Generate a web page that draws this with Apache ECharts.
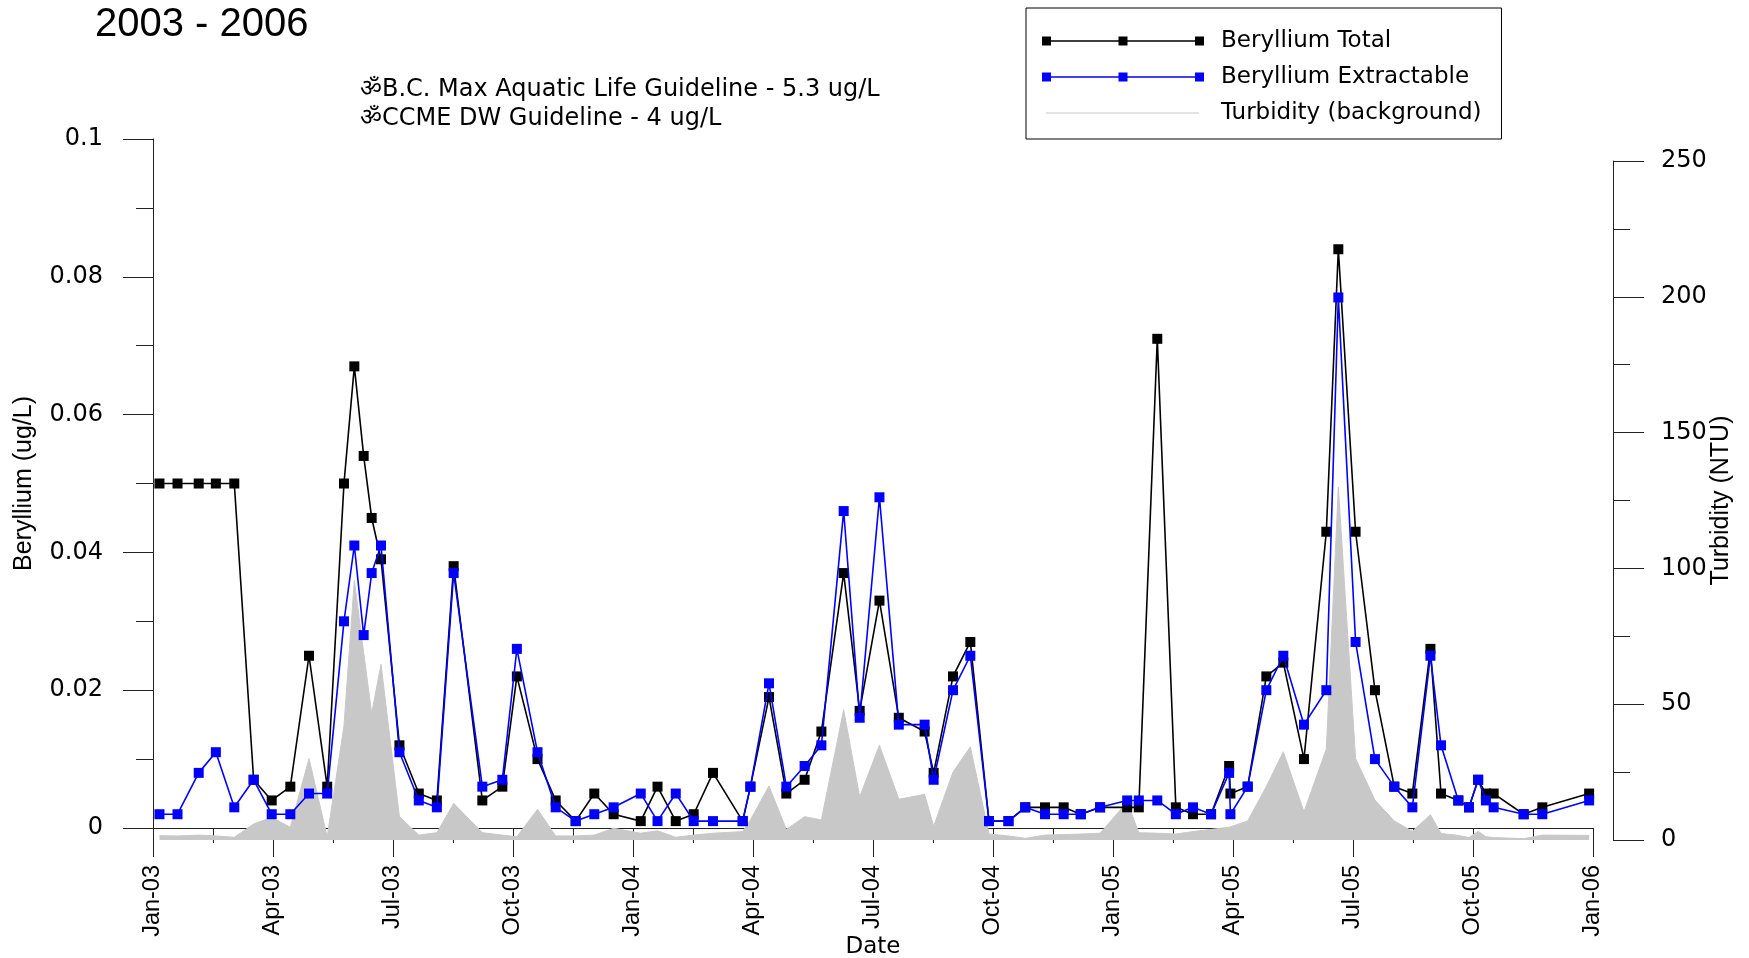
<!DOCTYPE html>
<html><head><meta charset="utf-8">
<script src="https://cdn.jsdelivr.net/npm/echarts@6/dist/echarts.min.js"></script>
<style>html,body{margin:0;padding:0;background:#fff}#chart{width:1749px;height:958px}</style>
</head><body><div id="chart"></div>
<script>
// ---- data ----
const sampleDates = [
 '2003-01-06','2003-01-20','2003-02-05','2003-02-17','2003-03-02','2003-03-17','2003-03-31','2003-04-14','2003-04-28','2003-05-12',
 '2003-05-25','2003-06-02','2003-06-09','2003-06-15','2003-06-22','2003-07-06','2003-07-21','2003-08-04','2003-08-17','2003-09-08',
 '2003-09-23','2003-10-04','2003-10-20','2003-11-03','2003-11-18','2003-12-02','2003-12-17','2004-01-07','2004-01-20','2004-02-03',
 '2004-02-16','2004-03-01','2004-03-24','2004-03-30','2004-04-13','2004-04-26','2004-05-10','2004-05-23','2004-06-09','2004-06-21',
 '2004-07-06','2004-07-21','2004-08-10','2004-08-17','2004-09-01','2004-09-14','2004-09-28','2004-10-13','2004-10-26','2004-11-10',
 '2004-11-24','2004-12-07','2004-12-22','2005-01-12','2005-01-21','2005-02-04','2005-02-17','2005-03-01','2005-03-15','2005-03-29',
 '2005-03-30','2005-04-12','2005-04-26','2005-05-09','2005-05-25','2005-06-11','2005-06-20','2005-07-03','2005-07-18','2005-08-02',
 '2005-08-16','2005-08-30','2005-09-07','2005-09-20','2005-09-28','2005-10-05','2005-10-11','2005-10-17','2005-11-09','2005-11-23',
 '2005-12-29'
];
const berylliumTotal = [
 0.05,0.05,0.05,0.05,0.05,0.007,0.004,0.006,0.025,0.006,
 0.05,0.067,0.054,0.045,0.039,0.012,0.005,0.004,0.038,0.004,
 0.006,0.022,0.010,0.004,0.001,0.005,0.002,0.001,0.006,0.001,
 0.002,0.008,0.001,0.006,0.019,0.005,0.007,0.014,0.037,0.017,
 0.033,0.016,0.014,0.008,0.022,0.027,0.001,0.001,0.003,0.003,
 0.003,0.002,0.003,0.003,0.003,0.071,0.003,0.002,0.002,0.009,
 0.005,0.006,0.022,0.024,0.010,0.043,0.084,0.043,0.020,0.006,
 0.005,0.026,0.005,0.004,0.003,0.007,0.005,0.005,0.002,0.003,
 0.005
];
const berylliumExtractable = [
 0.002,0.002,0.008,0.011,0.003,0.007,0.002,0.002,0.005,0.005,
 0.030,0.041,0.028,0.037,0.041,0.011,0.004,0.003,0.037,0.006,
 0.007,0.026,0.011,0.003,0.001,0.002,0.003,0.005,0.001,0.005,
 0.001,0.001,0.001,0.006,0.021,0.006,0.009,0.012,0.046,0.016,
 0.048,0.015,0.015,0.007,0.020,0.025,0.001,0.001,0.003,0.002,
 0.002,0.002,0.003,0.004,0.004,0.004,0.002,0.003,0.002,0.008,
 0.002,0.006,0.020,0.025,0.015,0.020,0.077,0.027,0.010,0.006,
 0.003,0.025,0.012,0.004,0.003,0.007,0.004,0.003,0.002,0.002,
 0.004
];
const turbidityNTU = [
 1.6,1.5,1.8,1.5,1.0,5.9,8.3,4.7,30,1.2,
 42,95.6,69,46.6,64.7,8.6,1.8,2.7,13.5,2.7,
 1.8,1.2,11.3,1.5,1.5,1.8,4.3,2.5,3.4,1.0,
 1.8,2.5,3.1,7.4,19.9,3.9,8.6,7.4,48,15.9,
 34.9,15,16.8,5.1,25,34.3,2.2,1.5,0.6,1.8,
 2.0,2.2,2.5,14,2.7,2.5,2.2,3.1,3.9,4.7,
 4.7,7.0,19.7,32.5,10.4,33.5,130,30,14.7,7,
 3.2,9.3,2.4,1.7,0.9,3.2,1.2,0.9,0.5,1.8,
 1.7
];
const xTickLabels = ['Jan-03','Apr-03','Jul-03','Oct-03','Jan-04','Apr-04','Jul-04','Oct-04','Jan-05','Apr-05','Jul-05','Oct-05','Jan-06'];
const seriesNames = ['Beryllium Total','Beryllium Extractable','Turbidity (background)'];
const guidelineNotes = ['ॐB.C. Max Aquatic Life Guideline - 5.3 ug/L','ॐCCME DW Guideline - 4 ug/L'];
const chartTitle = '2003 - 2006';

// months since Jan 2003 (axis unit)
function monthIndex(s){
  const p = s.split('-').map(Number);
  const dim = new Date(p[0], p[1], 0).getDate();
  return (p[0]-2003)*12 + (p[1]-1) + (p[2]-1)/dim;
}
const xs = sampleDates.map(monthIndex);
const pairs = arr => arr.map((v,i) => [xs[i], v]);

const H = 'DejaVu Sans';
const V = 'Liberation Sans';
const AX = '#222';

const iconMarkers = 'path://M0,0h9v9h-9z M76.5,0h9v9h-9z M153,0h9v9h-9z M0,3.8h162v1.4h-162z';
const iconLine = 'path://M4,3.9h153v1.2h-153z M0,0h0.01v0.01h-0.01z M161.99,8.99h0.01v0.01h-0.01z';

const chart = echarts.init(document.getElementById('chart'), null, {renderer:'canvas'});
chart.setOption({
  animation:false,
  backgroundColor:'#fff',
  title:{text:chartTitle, left:95, top:5, padding:0,
    textStyle:{fontFamily:V, fontSize:40, fontWeight:'normal', color:'#000'}},
  legend:{
    orient:'vertical', left:1026, top:8, padding:[19,20,12,16], itemGap:8,
    itemWidth:162, itemHeight:9, selectedMode:false,
    borderColor:'#000', borderWidth:1, backgroundColor:'#fff',
    itemStyle:{borderWidth:0},
    textStyle:{fontFamily:H, fontSize:23, color:'#000', lineHeight:28, padding:[0,0,0,12]},
    data:[
      {name:seriesNames[0], icon:iconMarkers},
      {name:seriesNames[1], icon:iconMarkers},
      {name:seriesNames[2], icon:iconLine}
    ]
  },
  graphic:[
    {type:'text', x:360, y:89.5, style:{text:guidelineNotes[0], font:'24px "DejaVu Sans"', fill:'#000', verticalAlign:'middle'}},
    {type:'text', x:360, y:118.5, style:{text:guidelineNotes[1], font:'24px "DejaVu Sans"', fill:'#000', verticalAlign:'middle'}}
  ],
  grid:[
    {left:153, right:156, top:139, bottom:130, containLabel:false, outerBoundsMode:'none'},
    {left:153, right:156, top:161, bottom:118, containLabel:false, outerBoundsMode:'none'}
  ],
  xAxis:[
    {type:'value', gridIndex:0, min:0, max:36, interval:3,
      name:'Date', nameLocation:'middle', nameGap:108, nameMoveOverlap:false,
      nameTextStyle:{fontFamily:H, fontSize:23, color:'#000'},
      axisLine:{show:true, onZero:false, lineStyle:{color:AX, width:1}},
      axisTick:{show:true, length:29, lineStyle:{color:AX, width:1}},
      minorTick:{show:true, splitNumber:2, length:15, lineStyle:{color:AX, width:1}},
      splitLine:{show:false}, minorSplitLine:{show:false},
      axisLabel:{rotate:90, margin:37, fontFamily:V, fontSize:23.5, color:'#000',
        showMinLabel:true, showMaxLabel:true,
        formatter: v => xTickLabels[Math.round(v/3)] || ''}},
    {type:'value', gridIndex:1, min:0, max:36, show:false}
  ],
  yAxis:[
    {type:'value', gridIndex:0, position:'left', min:0, max:0.1, interval:0.02,
      name:'Beryllium (ug/L)', nameLocation:'middle', nameGap:116, nameRotate:90, nameMoveOverlap:false,
      nameTextStyle:{fontFamily:V, fontSize:25, color:'#000'},
      axisLine:{show:true, onZero:false, lineStyle:{color:AX, width:1}},
      axisTick:{show:true, length:30, lineStyle:{color:AX, width:1}},
      minorTick:{show:true, splitNumber:2, length:17, lineStyle:{color:AX, width:1}},
      splitLine:{show:false}, minorSplitLine:{show:false},
      axisLabel:{margin:50, fontFamily:H, fontSize:24, color:'#000'}},
    {type:'value', gridIndex:1, position:'right', offset:20, min:0, max:250, interval:50,
      name:'Turbidity (NTU)', nameLocation:'middle', nameGap:96, nameRotate:90, nameMoveOverlap:false,
      nameTextStyle:{fontFamily:V, fontSize:25, color:'#000'},
      axisLine:{show:true, onZero:false, lineStyle:{color:AX, width:1}},
      axisTick:{show:true, length:31, lineStyle:{color:AX, width:1}},
      minorTick:{show:true, splitNumber:2, length:17, lineStyle:{color:AX, width:1}},
      splitLine:{show:false}, minorSplitLine:{show:false},
      axisLabel:{margin:48, fontFamily:H, fontSize:24, color:'#000'}}
  ],
  series:[
    {name:seriesNames[2], type:'line', xAxisIndex:1, yAxisIndex:1, data:pairs(turbidityNTU),
      symbol:'none', z:1, silent:true,
      lineStyle:{color:'#c8c8c8', width:1}, itemStyle:{color:'#c8c8c8'},
      areaStyle:{color:'#c8c8c8', opacity:1}},
    {name:seriesNames[0], type:'line', xAxisIndex:0, yAxisIndex:0, data:pairs(berylliumTotal),
      symbol:'rect', symbolSize:10, showSymbol:true, showAllSymbol:true, z:3,
      lineStyle:{color:'#000', width:1.6}, itemStyle:{color:'#000'}},
    {name:seriesNames[1], type:'line', xAxisIndex:0, yAxisIndex:0, data:pairs(berylliumExtractable),
      symbol:'rect', symbolSize:10, showSymbol:true, showAllSymbol:true, z:4,
      lineStyle:{color:'#0000ff', width:1.6}, itemStyle:{color:'#0000ff'}}
  ]
});
</script></body></html>
